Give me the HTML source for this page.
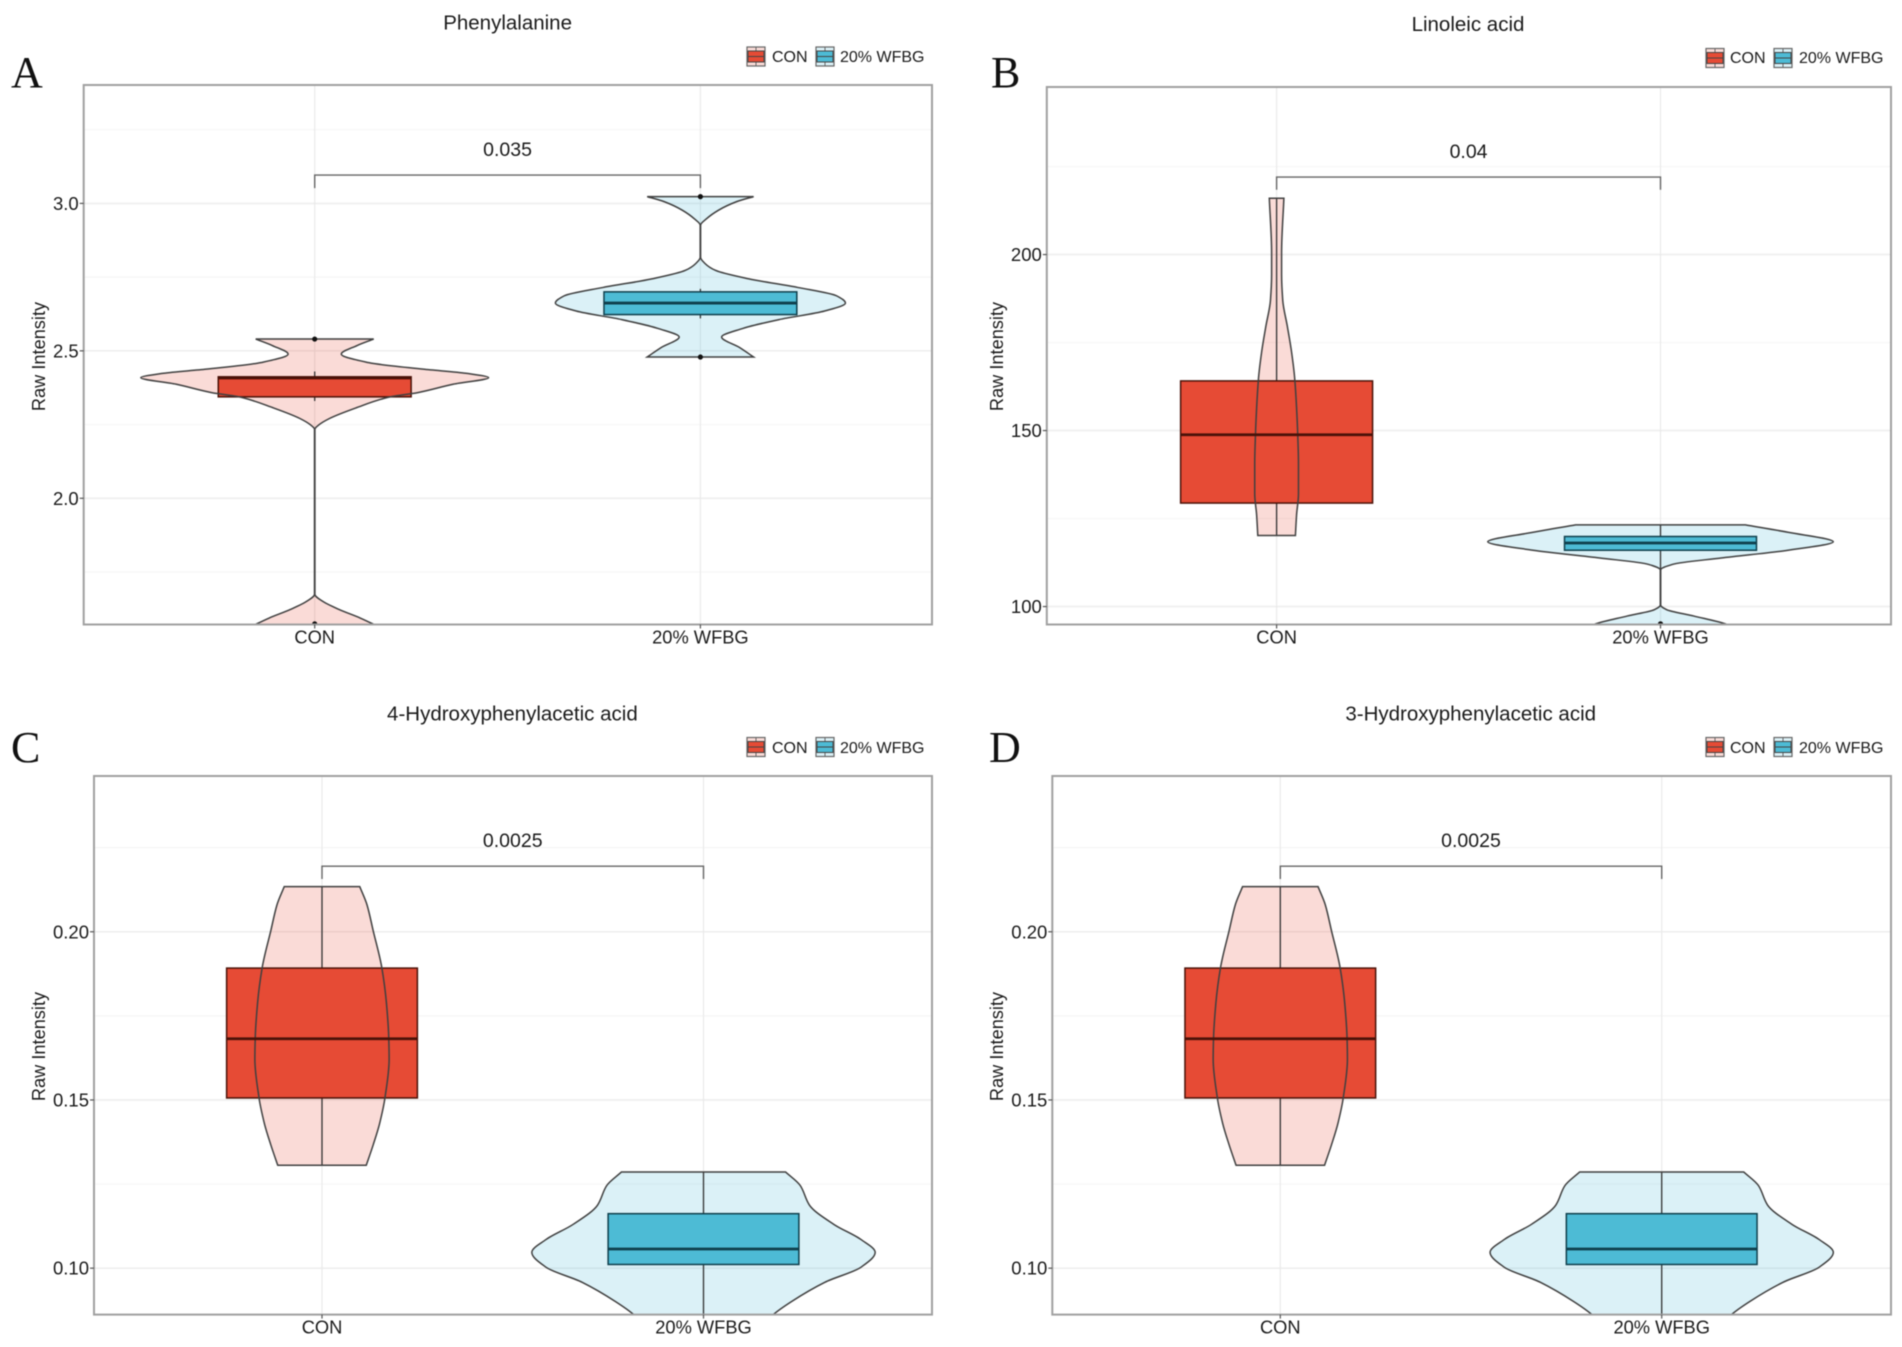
<!DOCTYPE html>
<html lang="en">
<head>
<meta charset="utf-8">
<title>Violin plots of metabolites</title>
<style>
  html, body { margin: 0; padding: 0; background: #fff; }
  #figure { display: block; filter: blur(0.5px); }
  text { font-family: "Liberation Sans", sans-serif; fill: #1a1a1a; }
  .panel-letter { font-family: "Liberation Serif", serif; font-size: 44px; fill: #111; }
</style>
</head>
<body>
<svg id="figure" xmlns="http://www.w3.org/2000/svg" width="1902" height="1347" viewBox="0 0 1902 1347">
  <rect width="1902" height="1347" fill="#ffffff"/>
  <g id="panel-a"></g>
  <g id="panel-b"></g>
  <g id="panel-c"></g>
  <g id="panel-d"></g>
</svg>
<script>
// ---- shared categories ----
const categories = ['CON', '20% WFBG'];
const legendLabels = ['CON', '20% WFBG'];

// ---- panel A: Phenylalanine ----
const aDomain = [1.572, 3.4015];
const aMajorTicks = [2.0, 2.5, 3.0];
const aTickLabels = ['2.0', '2.5', '3.0'];
const aMinorTicks = [1.75, 2.25, 2.75, 3.25];
const aConValues = [2.540, 2.518, 2.489, 2.460, 2.438, 2.424, 2.409, 2.387, 2.358, 2.344, 2.307, 2.271, 2.249, 2.234, 1.674, 1.652, 1.623, 1.594, 1.565];
const aConDensity = [.153, .110, .069, .140, .281, .392, .451, .360, .266, .195, .108, .039, .011, .0005, .0005, .019, .063, .118, .165];
const aWfbgValues = [3.023, 3.006, 2.977, 2.948, 2.926, 2.817, 2.795, 2.773, 2.744, 2.715, 2.686, 2.662, 2.635, 2.606, 2.576, 2.547, 2.511, 2.479];
const aWfbgDensity = [.138, .094, .047, .016, .0005, .0005, .013, .039, .126, .252, .354, .376, .322, .204, .110, .055, .102, .138];
const aConBox = [2.344, 2.408, 2.412];
const aWfbgBox = [2.623, 2.662, 2.700];
const aConWhisker = [2.33, 2.43];
const aWfbgWhisker = [2.61, 2.71];
const aConOutliers = [2.54, 1.574];
const aWfbgOutliers = [3.023, 2.479];
const aBracket = [3.096, 3.052];
const aPValue = '0.035';

// ---- panel B: Linoleic acid ----
const bDomain = [94.9, 247.6];
const bMajorTicks = [100, 150, 200];
const bTickLabels = ['100', '150', '200'];
const bMinorTicks = [125, 175, 225];
const bConValues = [216, 200.4, 194.3, 187, 179.6, 172.3, 165, 156.5, 149, 140.6, 132, 126, 120.2];
const bConDensity = [.019, .013, .013, .016, .028, .039, .047, .052, .055, .057, .057, .052, .049];
const bWfbgValues = [123.2, 121.1, 118.4, 116, 113.8, 112, 110.4, 100.4, 99.1, 97.3, 94.9, 94.3];
const bWfbgDensity = [.221, .332, .450, .332, .158, .032, .0005, .0005, .016, .087, .174, .186];
const bConBox = [129.4, 148.8, 164.1];
const bWfbgBox = [116, 118.05, 119.9];
const bConWhisker = [120.2, 216];
const bWfbgWhisker = [110.4, 123.2];
const bConOutliers = [];
const bWfbgOutliers = [95.1];
const bBracket = [222, 218.4];
const bPValue = '0.04';

// ---- panel C: 4-Hydroxyphenylacetic acid ----
const cDomain = [0.0862, 0.2463];
const cMajorTicks = [0.10, 0.15, 0.20];
const cTickLabels = ['0.10', '0.15', '0.20'];
const cMinorTicks = [0.125, 0.175, 0.225];
const cConValues = [.2134, .208, .2004, .1892, .1787, .1685, .1621, .1506, .143, .1366, .1306];
const cConDensity = [.099, .118, .134, .157, .169, .175, .176, .165, .151, .134, .116];
const cWfbgValues = [.1286, .1245, .1187, .113, .1085, .1047, .1003, .0958, .0901, .0862, .0843];
const cWfbgDensity = [.215, .254, .278, .342, .413, .450, .413, .318, .231, .183, .167];
const cConBox = [.1506, .1682, .1892];
const cWfbgBox = [.1011, .1057, .1162];
const cConWhisker = [.1306, .2134];
const cWfbgWhisker = [.0843, .1286];
const cBracket = [.2195, .2157];
const cPValue = '0.0025';

// ---- panel D: 3-Hydroxyphenylacetic acid ----
const dDomain = [0.0862, 0.2463];
const dMajorTicks = [0.10, 0.15, 0.20];
const dTickLabels = ['0.10', '0.15', '0.20'];
const dMinorTicks = [0.125, 0.175, 0.225];
const dConValues = [.2134, .208, .2004, .1892, .1787, .1685, .1621, .1506, .143, .1366, .1306];
const dConDensity = [.099, .118, .134, .157, .169, .175, .176, .165, .151, .134, .116];
const dWfbgValues = [.1286, .1245, .1187, .113, .1085, .1047, .1003, .0958, .0901, .0862, .0843];
const dWfbgDensity = [.215, .254, .278, .342, .413, .450, .413, .318, .231, .183, .167];
const dConBox = [.1506, .1682, .1892];
const dWfbgBox = [.1011, .1057, .1162];
const dConWhisker = [.1306, .2134];
const dWfbgWhisker = [.0843, .1286];
const dBracket = [.2195, .2157];
const dPValue = '0.0025';

const SVGNS = 'http://www.w3.org/2000/svg';
const RED = '#E64B35', BLUE = '#4DBBD5';
const RED_TINT = 'rgba(230,75,53,0.2)', BLUE_TINT = 'rgba(77,187,213,0.2)';
const RED_EDGE = '#4a1208', BLUE_EDGE = '#0f3f4c';

function mk(tag, attrs, parent) {
  const el = document.createElementNS(SVGNS, tag);
  for (const k in attrs) el.setAttribute(k, attrs[k]);
  parent.appendChild(el);
  return el;
}

// Monotone cubic: the outline is treated as x = f(y), so tips and necks stay free of overshoot.
function smooth(pts) {
  const n = pts.length;
  const secants = [];
  for (let i = 0; i < n - 1; i++) {
    secants.push((pts[i + 1][0] - pts[i][0]) / (pts[i + 1][1] - pts[i][1]));
  }
  const slopes = pts.map(function (pt, i) {
    if (i === 0) return secants[0];
    if (i === n - 1) return secants[n - 2];
    const a = secants[i - 1], b = secants[i];
    if (a * b <= 0) return 0;
    return 2 * a * b / (a + b);
  });
  let d = '';
  for (let i = 0; i < n - 1; i++) {
    const h = (pts[i + 1][1] - pts[i][1]) / 3;
    d += ' C' + (pts[i][0] + slopes[i] * h).toFixed(2) + ' ' + (pts[i][1] + h).toFixed(2) + ' ' +
      (pts[i + 1][0] - slopes[i + 1] * h).toFixed(2) + ' ' + (pts[i + 1][1] - h).toFixed(2) + ' ' +
      pts[i + 1][0].toFixed(2) + ' ' + pts[i + 1][1].toFixed(2);
  }
  return d;
}

function violinPath(values, density, cx, unit, y) {
  const right = values.map((v, i) => [cx + density[i] * unit, y(v)]);
  const left = values.map((v, i) => [cx - density[i] * unit, y(v)]).reverse();
  return 'M' + right[0][0].toFixed(2) + ' ' + right[0][1].toFixed(2) + smooth(right) +
    ' L' + left[0][0].toFixed(2) + ' ' + left[0][1].toFixed(2) + smooth(left) + ' Z';
}

function drawLegend(g, L) {
  const key1 = mk('g', {}, g);
  
  
  const key2 = mk('g', {}, g);
  
  
  [[key1, L.key1, RED, RED_TINT], [key2, L.key2, BLUE, BLUE_TINT]].forEach(function (k) {
    mk('rect', { x: k[1], y: L.keyY, width: 18, height: 19, fill: k[3], stroke: '#666', 'stroke-width': 1.2 }, k[0]);
    mk('line', { x1: k[1] + 9, x2: k[1] + 9, y1: L.keyY, y2: L.keyY + 19, stroke: '#666', 'stroke-width': 1 }, k[0]);
    mk('rect', { x: k[1] + 1, y: L.keyY + 4, width: 16, height: 11, fill: k[2], stroke: '#444', 'stroke-width': 1 }, k[0]);
    mk('line', { x1: k[1] + 1, x2: k[1] + 17, y1: L.keyY + 9.5, y2: L.keyY + 9.5, stroke: '#444', 'stroke-width': 1 }, k[0]);
  });
  const t1 = mk('text', { x: L.text1, y: L.baseline, 'font-size': 16 }, g);
  
  
  t1.textContent = legendLabels[0];
  const t2 = mk('text', { x: L.text2, y: L.baseline, 'font-size': 16 }, g);
  
  
  t2.textContent = legendLabels[1];
}

function drawPanel(p) {
  const g = document.getElementById(p.id);
  const y = function (v) { return p.bottom - (v - p.domain[0]) / (p.domain[1] - p.domain[0]) * (p.bottom - p.top); };
  const x = function (i) { return p.cx[i]; };
  const unit = p.cx[1] - p.cx[0];

  const clipId = p.id + '-clip';
  const defs = mk('defs', {}, g);
  const clip = mk('clipPath', { id: clipId }, defs);
  mk('rect', { x: p.left, y: p.top, width: p.right - p.left, height: p.bottom - p.top }, clip);

  // grid
  p.minor.forEach(function (v) {
    const l = mk('line', { x1: p.left, x2: p.right, y1: y(v), y2: y(v), stroke: '#f6f6f6', 'stroke-width': 1.2 }, g);
    
    
  });
  p.major.forEach(function (v) {
    const l = mk('line', { x1: p.left, x2: p.right, y1: y(v), y2: y(v), stroke: '#eeeeee', 'stroke-width': 1.6 }, g);
    
    
  });
  categories.forEach(function (c, i) {
    const l = mk('line', { x1: x(i), x2: x(i), y1: p.top, y2: p.bottom, stroke: '#eaeaea', 'stroke-width': 1.2 }, g);
    
    
  });

  const plot = mk('g', { 'clip-path': 'url(#' + clipId + ')' }, g);
  
  

  p.series.forEach(function (s, i) {
    const cx = x(i);
    const d = violinPath(s.values, s.density, cx, unit, y);
    const fill = mk('path', { d: d, fill: s.tint, stroke: 'none' }, plot);
    
    

    const wh = mk('line', { x1: cx, x2: cx, y1: y(s.whisker[0]), y2: y(s.whisker[1]), stroke: '#333', 'stroke-width': 1.3 }, plot);
    
    

    const halfBox = unit * 0.25;
    const box = mk('rect', { x: cx - halfBox, y: y(s.box[2]), width: halfBox * 2, height: y(s.box[0]) - y(s.box[2]), fill: s.color, stroke: s.edge, 'stroke-width': 1.5 }, plot);
    
    

    const outline = mk('path', { d: d, fill: 'none', stroke: '#404040', 'stroke-width': 1.5 }, plot);
    
    

    const med = mk('line', { x1: cx - halfBox, x2: cx + halfBox, y1: y(s.box[1]), y2: y(s.box[1]), stroke: s.edge, 'stroke-width': 2.8 }, plot);
    
    

    s.outliers.forEach(function (v) {
      const dot = mk('circle', { cx: cx, cy: y(v), r: 2.6, fill: '#111' }, plot);
      
      
    });
  });

  // panel border
  const border = mk('rect', { x: p.left, y: p.top, width: p.right - p.left, height: p.bottom - p.top, fill: 'none', stroke: '#a0a0a0', 'stroke-width': 2 }, g);
  
  

  // y ticks
  p.major.forEach(function (v, i) {
    const t = mk('line', { x1: p.left - 4, x2: p.left, y1: y(v), y2: y(v), stroke: '#555', 'stroke-width': 1.2 }, g);
    
    
    const lab = mk('text', { x: p.left - 5, y: y(v) + 6.5, 'text-anchor': 'end', 'font-size': 18.5 }, g);
    
    
    lab.textContent = p.tickLabels[i];
  });

  // x ticks
  categories.forEach(function (c, i) {
    const t = mk('line', { x1: x(i), x2: x(i), y1: p.bottom, y2: p.bottom + 4, stroke: '#555', 'stroke-width': 1.2 }, g);
    
    
    const lab = mk('text', { x: x(i), y: p.bottom + 19, 'text-anchor': 'middle', 'font-size': 18.3 }, g);
    
    
    lab.textContent = c;
  });

  // y axis title
  const yt = mk('text', { transform: 'translate(' + p.yTitleX + ' ' + p.yTitleY + ') rotate(-90)', 'text-anchor': 'middle', 'font-size': 18.2 }, g);
  
  
  yt.textContent = 'Raw Intensity';

  // significance bracket
  const by = y(p.bracket[0]), tip = y(p.bracket[1]);
  const br = mk('path', { d: 'M' + x(0) + ' ' + tip + ' L' + x(0) + ' ' + by + ' L' + x(1) + ' ' + by + ' L' + x(1) + ' ' + tip, fill: 'none', stroke: '#666', 'stroke-width': 1.4 }, g);
  
  
  const pv = mk('text', { x: (x(0) + x(1)) / 2, y: by - 19, 'text-anchor': 'middle', 'font-size': 19.5 }, g);
  
  
  pv.textContent = p.pValue;

  // title
  const ti = mk('text', { x: p.titleX, y: p.titleY, 'text-anchor': 'middle', 'font-size': 20.5 }, g);
  
  
  ti.textContent = p.title;

  // panel letter
  const le = mk('text', { x: p.letterX, y: p.letterY, class: 'panel-letter' }, g);
  
  
  le.textContent = p.letter;

  const leg = mk('g', {}, g);
  
  
  drawLegend(leg, p.legend);
}

function series(key, color, tint, edge, values, density, box, whisker, outliers) {
  return { key: key, color: color, tint: tint, edge: edge, values: values, density: density, box: box, whisker: whisker, outliers: outliers };
}

drawPanel({
  id: 'panel-a', title: 'Phenylalanine', letter: 'A', letterX: 11, letterY: 87,
  left: 83.7, right: 932, top: 85, bottom: 624.5, cx: [314.7, 700.4],
  domain: aDomain, major: aMajorTicks, minor: aMinorTicks, tickLabels: aTickLabels,
  bracket: aBracket, pValue: aPValue, titleX: 507.6, titleY: 29.5, yTitleX: 45, yTitleY: 356.5,
  legend: { key1: 747, key2: 816, keyY: 47, text1: 772, text2: 840, baseline: 62 },
  series: [
    series('con', RED, RED_TINT, RED_EDGE, aConValues, aConDensity, aConBox, aConWhisker, aConOutliers),
    series('wfbg', BLUE, BLUE_TINT, BLUE_EDGE, aWfbgValues, aWfbgDensity, aWfbgBox, aWfbgWhisker, aWfbgOutliers)
  ]
});

drawPanel({
  id: 'panel-b', title: 'Linoleic acid', letter: 'B', letterX: 991, letterY: 87,
  left: 1046.8, right: 1891, top: 87, bottom: 624.5, cx: [1276.6, 1660.5],
  domain: bDomain, major: bMajorTicks, minor: bMinorTicks, tickLabels: bTickLabels,
  bracket: bBracket, pValue: bPValue, titleX: 1468, titleY: 31, yTitleX: 1003, yTitleY: 356.5,
  legend: { key1: 1706, key2: 1774, keyY: 48.5, text1: 1730, text2: 1799, baseline: 63 },
  series: [
    series('con', RED, RED_TINT, RED_EDGE, bConValues, bConDensity, bConBox, bConWhisker, bConOutliers),
    series('wfbg', BLUE, BLUE_TINT, BLUE_EDGE, bWfbgValues, bWfbgDensity, bWfbgBox, bWfbgWhisker, bWfbgOutliers)
  ]
});

drawPanel({
  id: 'panel-c', title: '4-Hydroxyphenylacetic acid', letter: 'C', letterX: 11, letterY: 762,
  left: 94, right: 932, top: 776, bottom: 1314.6, cx: [322, 703.5],
  domain: cDomain, major: cMajorTicks, minor: cMinorTicks, tickLabels: cTickLabels,
  bracket: cBracket, pValue: cPValue, titleX: 512.4, titleY: 720.5, yTitleX: 45, yTitleY: 1046.5,
  legend: { key1: 747, key2: 816, keyY: 737.5, text1: 772, text2: 840, baseline: 753 },
  series: [
    series('con', RED, RED_TINT, RED_EDGE, cConValues, cConDensity, cConBox, cConWhisker, []),
    series('wfbg', BLUE, BLUE_TINT, BLUE_EDGE, cWfbgValues, cWfbgDensity, cWfbgBox, cWfbgWhisker, [])
  ]
});

drawPanel({
  id: 'panel-d', title: '3-Hydroxyphenylacetic acid', letter: 'D', letterX: 989, letterY: 762,
  left: 1052.3, right: 1891, top: 776, bottom: 1314.6, cx: [1280.3, 1661.7],
  domain: dDomain, major: dMajorTicks, minor: dMinorTicks, tickLabels: dTickLabels,
  bracket: dBracket, pValue: dPValue, titleX: 1470.7, titleY: 720.5, yTitleX: 1003, yTitleY: 1046.5,
  legend: { key1: 1706, key2: 1774, keyY: 737.5, text1: 1730, text2: 1799, baseline: 753 },
  series: [
    series('con', RED, RED_TINT, RED_EDGE, dConValues, dConDensity, dConBox, dConWhisker, []),
    series('wfbg', BLUE, BLUE_TINT, BLUE_EDGE, dWfbgValues, dWfbgDensity, dWfbgBox, dWfbgWhisker, [])
  ]
});
</script>
</body>
</html>
